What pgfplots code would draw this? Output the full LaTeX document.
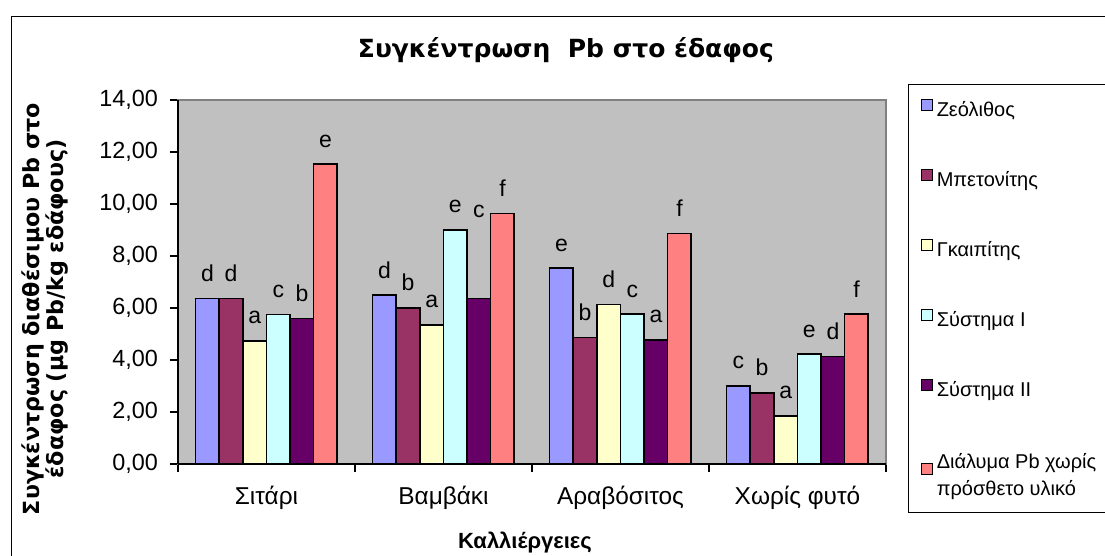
\documentclass[border=0pt]{standalone}
\usepackage{pgfplots}
\pgfplotsset{compat=1.18}
\usepackage{pgfplotstable}
\usepackage{fontspec}
\setmainfont{Liberation Sans}
\newfontfamily\djv{DejaVu Sans}
\definecolor{czeo}{HTML}{9999FF}
\definecolor{cben}{HTML}{993366}
\definecolor{cgai}{HTML}{FFFFCC}
\definecolor{csa}{HTML}{CCFFFF}
\definecolor{csb}{HTML}{660066}
\definecolor{csol}{HTML}{FF8080}
\definecolor{plotbg}{HTML}{C0C0C0}
\definecolor{frame}{HTML}{808080}
\newcommand{\upc}{\raisebox{32pt}{c}}

\pgfplotstableread{
x zeo zeoL ben benL gai gaiL sa saL sb sbL sol solL
0 6.37 d 6.37 d 4.74 a 5.75 c 5.60 b 11.53 e
1 6.49 d 6.00 b 5.35 a 9.00 e 6.37 \upc{} 9.64 f
2 7.53 e 4.87 b 6.14 d 5.76 c 4.77 a 8.86 f
3 3.00 c 2.74 b 1.85 a 4.23 e 4.14 d 5.76 f
}\data

\newcommand{\lstrut}{\rule[-3pt]{0pt}{10pt}}
\begin{document}
\begin{tikzpicture}
\useasboundingbox (0,0) rectangle (552.5pt,278pt);
\draw[line width=0.6pt] (5.85pt,-5pt) -- (5.85pt,269.75pt) -- (560pt,269.75pt);
\begin{axis}[
  at={(89pt,46pt)}, anchor=south west,
  scale only axis, width=354pt, height=182pt,
  ybar=0pt, bar width=11.8pt,
  xmin=-0.5, xmax=3.5, ymin=0, ymax=14,
  xtick={-0.5,0.5,1.5,2.5,3.5},
  x tick label as interval,
  xticklabels={Σιτάρι,Βαμβάκι,Αραβόσιτος,Χωρίς φυτό},
  ytick={0,2,...,14},
  xtick pos=bottom, ytick pos=left,
  tick align=outside, major tick length=4pt,
  tick style={black, line width=0.6pt},
  /pgf/number format/assume math mode=true,
  yticklabel style={/pgf/number format/.cd, fixed, fixed zerofill, precision=2, use comma, /tikz/.cd, xshift=-2.5pt, font=\fontsize{11.7}{14}\selectfont},
  xticklabel style={yshift=-3.5pt, font=\fontsize{12.2}{14}\selectfont},
  axis line style={draw=frame, line width=0.6pt},
  axis background/.style={fill=plotbg},
  title={Συγκέντρωση\ \ Pb στο έδαφος},
  every axis title/.style={at={(axis description cs:0.548,1.137)}, anchor=center, font=\djv\bfseries\fontsize{12.5}{15}\selectfont},
  xlabel={Καλλιέργειες},
  xlabel style={at={(axis description cs:0.49,-0.217)}, anchor=center, font=\bfseries\fontsize{11}{13}\selectfont},
  ylabel={Συγκέντρωση διαθέσιμου Pb στο\\έδαφος (μg Pb/kg εδάφους)},
  ylabel style={at={(axis description cs:-0.188,0.426)}, anchor=center, rotate=0, align=center, font=\djv\bfseries\fontsize{11.1}{12}\selectfont},
  nodes near coords,
  point meta=explicit symbolic,
  every node near coord/.append style={anchor=base, yshift=8.5pt, font=\fontsize{11.5}{13}\selectfont, black},
  legend style={at={(axis description cs:1.031,1.044)}, anchor=north west, draw=black, line width=0.6pt, fill=white,
    font=\fontsize{10}{13.5}\selectfont, inner xsep=6pt, inner ysep=7.2pt, row sep=25pt, column sep=2pt,
    nodes={inner sep=0pt}},
  legend cell align=left,
  legend image code/.code={\draw[#1, line width=0.6pt, draw=black] (0pt,-0.3pt) rectangle (5.5pt,5.2pt);},
  after end axis/.code={
    \draw[black, line width=0.6pt] (rel axis cs:0,0) -- (rel axis cs:1,0);
    \draw[black, line width=0.6pt] (rel axis cs:0,0) -- (rel axis cs:0,1);
  },
]
\addplot[fill=czeo, draw=black, line width=0.8pt] table[x=x, y=zeo, meta=zeoL] {\data};
\addlegendentry{\lstrut Ζεόλιθος}
\addplot[fill=cben, draw=black, line width=0.8pt] table[x=x, y=ben, meta=benL] {\data};
\addlegendentry{\lstrut Μπετονίτης}
\addplot[fill=cgai, draw=black, line width=0.8pt] table[x=x, y=gai, meta=gaiL] {\data};
\addlegendentry{\lstrut Γκαιπίτης}
\addplot[fill=csa, draw=black, line width=0.8pt] table[x=x, y=sa, meta=saL] {\data};
\addlegendentry{\lstrut Σύστημα Ι}
\addplot[fill=csb, draw=black, line width=0.8pt] table[x=x, y=sb, meta=sbL] {\data};
\addlegendentry{\lstrut Σύστημα ΙΙ}
\addplot[fill=csol, draw=black, line width=0.8pt] table[x=x, y=sol, meta=solL] {\data};
\addlegendentry{\begin{tabular}[b]{@{}l@{}}\lstrut Διάλυμα Pb χωρίς\\πρόσθετο υλικό\end{tabular}}
\end{axis}
\end{tikzpicture}
\end{document}
